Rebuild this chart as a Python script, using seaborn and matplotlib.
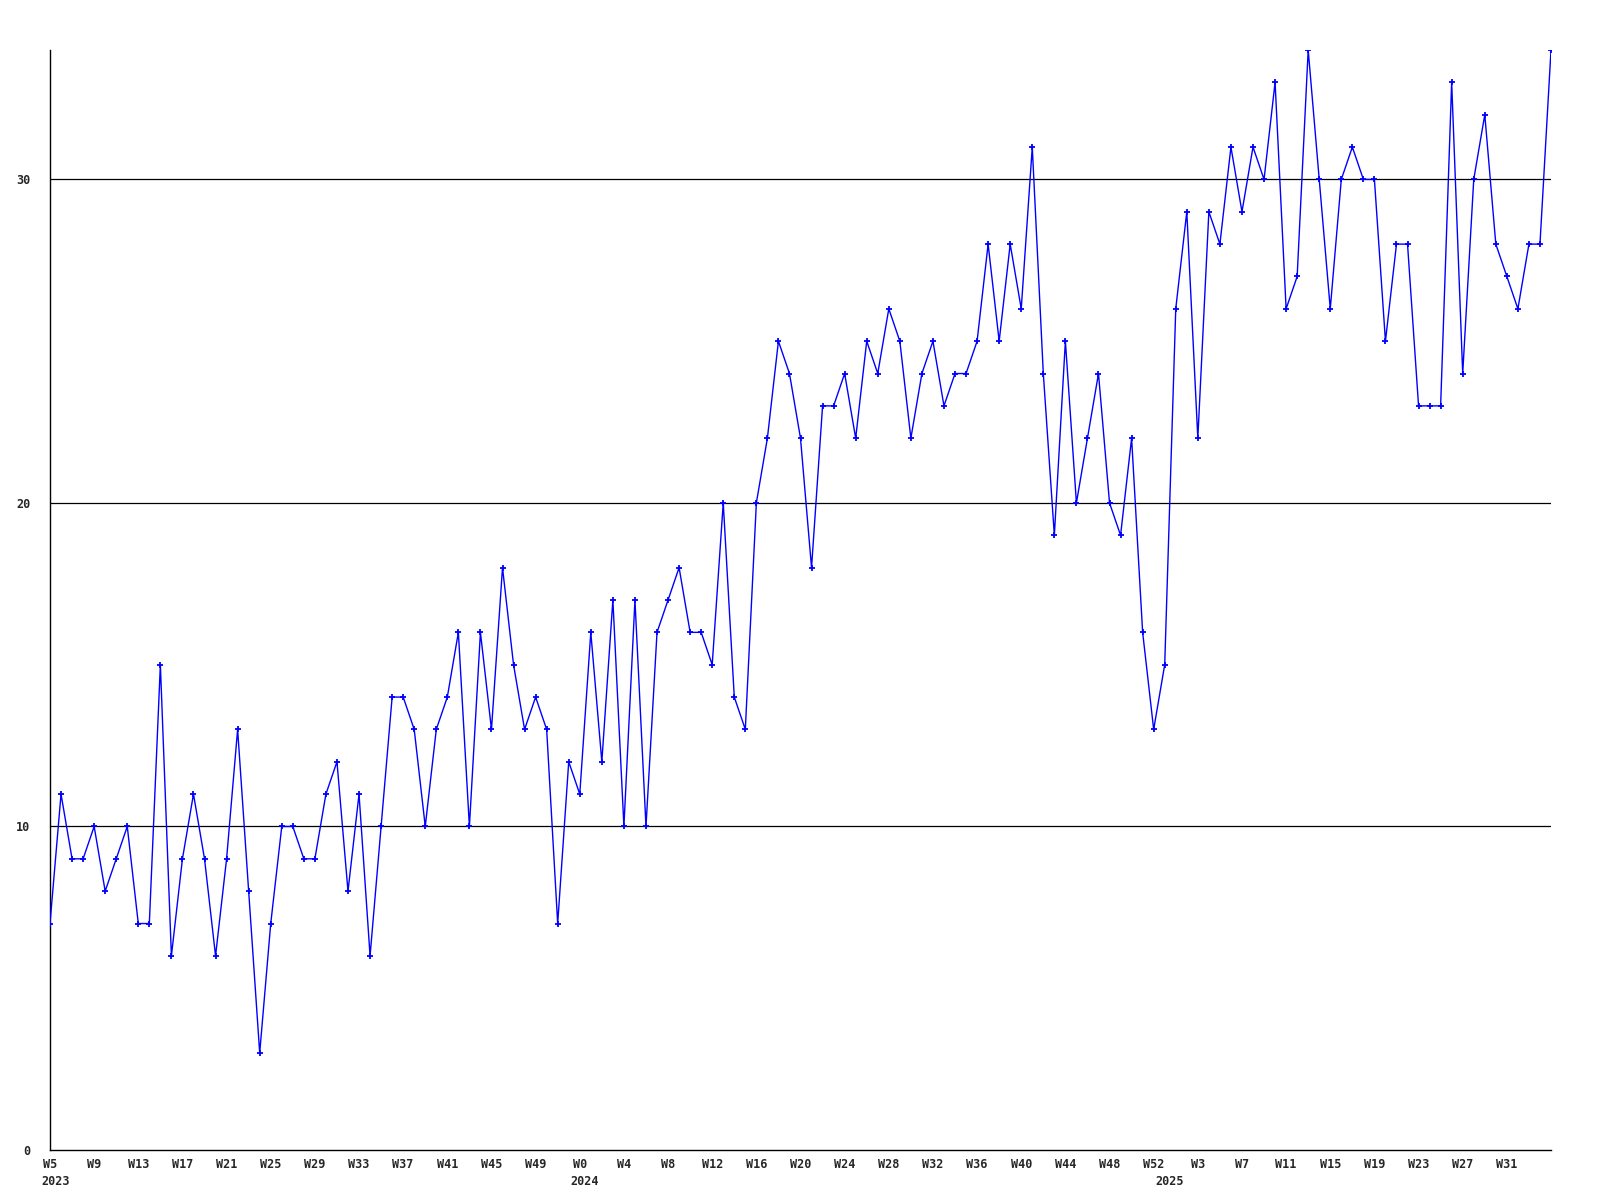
import matplotlib
matplotlib.use("Agg")
import matplotlib.pyplot as plt
import pandas as pd
import seaborn as sns

# Weekly counts
values_2023 = [7, 11, 9, 9, 10, 8, 9, 10, 7, 7, 15, 6, 9, 11, 9, 6, 9, 13, 8, 3,
               7, 10, 10, 9, 9, 11, 12, 8, 11, 6, 10, 14, 14, 13, 10, 13, 14, 16, 10, 16,
               13, 18, 15, 13, 14, 13, 7, 12]
values_2024 = [11, 16, 12, 17, 10, 17, 10, 16, 17, 18, 16, 16, 15, 20, 14, 13, 20, 22, 25, 24,
               22, 18, 23, 23, 24, 22, 25, 24, 26, 25, 22, 24, 25, 23, 24, 24, 25, 28, 25, 28,
               26, 31, 24, 19, 25, 20, 22, 24, 20, 19, 22, 16, 13]
values_2025 = [15, 26, 29, 22, 29, 28, 31, 29, 31, 30, 33, 26, 27, 34, 30, 26, 30, 31, 30, 30,
               25, 28, 28, 23, 23, 23, 33, 24, 30, 32, 28, 27, 26, 28, 28, 34]

# Week names per year (first / last week shown)
weeks_2023 = ["W%d" % w for w in range(5, 53)]
weeks_2024 = ["W%d" % w for w in range(0, 53)]
weeks_2025 = ["W%d" % w for w in range(0, 36)]
years = ["2023", "2024", "2025"]
y_ticks = [0, 10, 20, 30]

weeks = weeks_2023 + weeks_2024 + weeks_2025
df = pd.DataFrame({
    "week": weeks,
    "year": ["2023"] * len(weeks_2023) + ["2024"] * len(weeks_2024) + ["2025"] * len(weeks_2025),
    "value": values_2023 + values_2024 + values_2025,
})
df["pos"] = range(len(df))

sns.set_style("white")
plt.rcParams["font.family"] = ["DejaVu Sans Mono"]

fig = plt.figure(figsize=(16, 12), dpi=100)
ax = fig.add_axes([50 / 1600, 50 / 1200, 1501 / 1600, 1100 / 1200])

for y in y_ticks[1:]:
    ax.axhline(y, color="black", lw=0.9, zorder=1)

sns.lineplot(data=df, x="pos", y="value", ax=ax, color="#0000ff", lw=1.0,
             marker="+", markersize=4, markeredgewidth=1.3, markeredgecolor="#0000ff",
             zorder=3)

ax.set_xlim(0, len(df) - 1)
ax.set_ylim(0, 34)
ax.set_xlabel("")
ax.set_ylabel("")

# week ticks every 4 weeks (the last week is left unlabelled)
ticks = df.iloc[:-1:4]
ax.set_xticks(ticks["pos"].tolist())
ax.set_xticklabels(ticks["week"], fontsize=8.5, fontweight="bold")
ax.set_yticks(y_ticks)
ax.set_yticklabels([str(v) for v in y_ticks], fontsize=8.5, fontweight="bold")
ax.tick_params(axis="both", length=0)
ax.tick_params(axis="x", pad=6)
ax.tick_params(axis="y", pad=14)

# year labels under the first week of each year
for yr in years:
    first = df.loc[df["year"] == yr, "pos"].iloc[0]
    ax.annotate(yr, xy=(first, 0), xycoords=("data", "axes fraction"),
                xytext=(-9, -25), textcoords="offset pixels",
                ha="left", va="top", fontsize=8.5, fontweight="bold")

for side in ["top", "right"]:
    ax.spines[side].set_visible(False)
for side in ["left", "bottom"]:
    ax.spines[side].set_color("black")
    ax.spines[side].set_linewidth(1.0)

fig.savefig("out.png", dpi=100, facecolor="white")
